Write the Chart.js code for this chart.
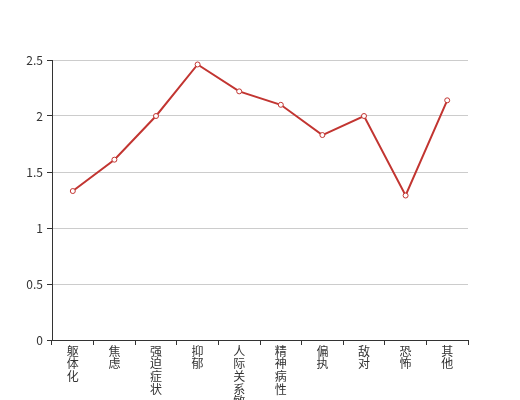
<!DOCTYPE html>
<html>
<head>
<meta charset="utf-8">
<script src="https://cdn.jsdelivr.net/npm/chart.js@4/dist/chart.umd.min.js"></script>
<style>
  html, body { margin: 0; padding: 0; background: #fff; overflow: hidden; }
  #wrap { width: 520px; height: 400px; position: relative; }
</style>
</head>
<body>
<div id="wrap"><canvas id="chartFactors"></canvas></div>
<script>
// 因子名称（纵向排列，每字一行）
const categories = ['躯体化', '焦虑', '强迫症状', '抑郁', '人际关系敏感', '精神病性', '偏执', '敌对', '恐怖', '其他'];
const scores = [1.33, 1.61, 2.0, 2.46, 2.22, 2.1, 1.83, 2.0, 1.29, 2.14];
const yTicks = [0, 0.5, 1, 1.5, 2, 2.5];

const textColor = '#333';
const fontFamily = '"Noto Sans CJK SC", "Noto Sans", sans-serif';

const canvas = document.getElementById('chartFactors');
new Chart(canvas, {
    type: 'line',
    data: {
        labels: categories.map(function (c) { return c.split(''); }),
        datasets: [{
            label: '得分',
            data: scores,
            borderColor: '#c23531',
            backgroundColor: '#fff',
            borderWidth: 2,
            pointRadius: 2.5,
            pointBorderWidth: 1,
            pointBackgroundColor: '#fff',
            pointBorderColor: '#c23531',
            tension: 0,
        }],
    },
    options: {
        responsive: true,
        maintainAspectRatio: false,
        animation: false,
        layout: { padding: { left: 0, right: 52, top: 60, bottom: 0 } },
        plugins: {
            legend: { display: false },
            tooltip: { enabled: false },
        },
        scales: {
            x: {
                offset: true,
                afterFit: function (scale) { scale.height = 60; },
                border: { display: true, color: textColor, width: 1 },
                grid: { offset: true, drawOnChartArea: false, drawTicks: true, tickLength: 5, tickColor: textColor },
                ticks: {
                    color: textColor,
                    padding: 0,
                    maxRotation: 0,
                    autoSkip: false,
                    font: { family: fontFamily, size: 12, lineHeight: 1.05 },
                },
            },
            y: {
                min: 0,
                max: 2.5,
                afterFit: function (scale) { scale.width = 52; },
                afterBuildTicks: function (scale) {
                    scale.ticks = yTicks.map(function (v) { return { value: v }; });
                },
                border: { display: true, color: textColor, width: 1 },
                grid: { color: '#ccc', tickColor: textColor, tickLength: 5 },
                ticks: {
                    color: textColor,
                    padding: 4,
                    font: { family: fontFamily, size: 12 },
                    callback: function (v) { return String(v); },
                },
            },
        },
    },
});
</script>
</body>
</html>
